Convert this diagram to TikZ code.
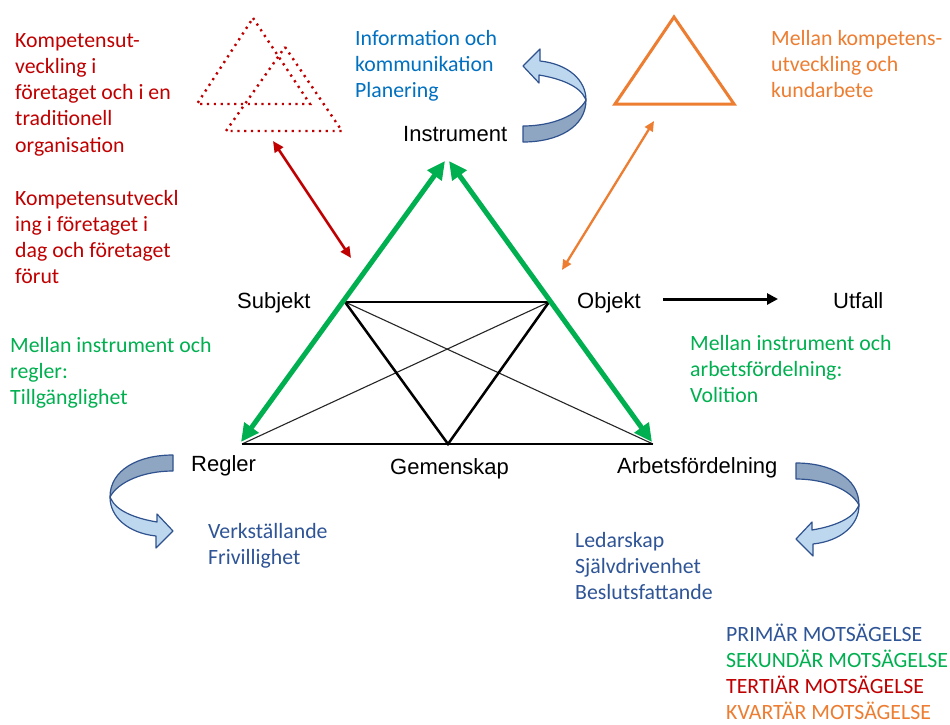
\documentclass[tikz,border=0pt]{standalone}
\usepackage{fontspec}
\newfontfamily\calfont{Carlito}
\newfontfamily\arifont{Liberation Sans}
\usetikzlibrary{arrows.meta}
\definecolor{tred}{RGB}{192,0,0}
\definecolor{tblue}{RGB}{0,112,192}
\definecolor{torange}{RGB}{237,125,49}
\definecolor{tgreen}{RGB}{0,176,80}
\definecolor{tdblue}{RGB}{47,85,151}
\definecolor{arrlight}{RGB}{189,215,238}
\definecolor{arrdark}{RGB}{143,166,194}
\definecolor{arrborder}{RGB}{47,82,143}
\newcommand\firstln{\rule{0pt}{18pt}}
\tikzset{
  txt/.style={anchor=north west, inner sep=0pt, align=left, font=\calfont\fontsize{21.8}{26.2}\selectfont},
  lab/.style={anchor=base west, inner sep=0pt, font=\arifont\fontsize{22}{25}\selectfont},
  thickln/.style={line width=2.5pt, black},
  thinln/.style={line width=1.1pt, black!85},
  greenarr/.style={line width=5pt, tgreen, {Triangle[length=18pt,width=17pt]}-{Triangle[length=18pt,width=17pt]}},
  redarr/.style={line width=2.5pt, tred, {Triangle[length=11pt,width=10pt]}-{Triangle[length=11pt,width=10pt]}},
  orarr/.style={line width=2.3pt, torange, {Triangle[length=10pt,width=9pt]}-{Triangle[length=10pt,width=9pt]}},
  utarr/.style={line width=3pt, black, -{Triangle[length=11pt,width=11pt]}},
  dottri/.style={line width=2.4pt, tred, dash pattern=on 2.2pt off 4.6pt},
  curly/.pic={
    \filldraw[fill=arrlight, draw=arrborder, line width=1.2pt, line join=round]
      (63,42) .. controls (63,62) and (45,78) .. (17,81) -- (17,93) -- (0,76) -- (16,59) -- (16,67)
      .. controls (40,63) and (57,55) .. (62,44) -- cycle;
    \filldraw[fill=arrdark, draw=arrborder, line width=1.2pt, line join=round]
      (0,0) .. controls (35,0) and (63,15) .. (63,42) .. controls (55,27) and (30,16) .. (0,16) -- cycle;
  }
}
\begin{document}
\begin{tikzpicture}[x=1pt,y=-1pt]
\useasboundingbox[fill=white] (0,0) rectangle (950,724);

% corner coordinates
\coordinate (apexL) at (445,161);
\coordinate (apexR) at (449,161);
\coordinate (cR) at (241,442);
\coordinate (cA) at (652,442);
\coordinate (S) at (345,302);
\coordinate (O) at (549,302);
\coordinate (G) at (448,444);
\coordinate (Rb) at (242,444);
\coordinate (Ab) at (653,444);

% inner figure
\draw[thinln] (S) -- (Ab);
\draw[thinln] (O) -- (Rb);
\draw[thickln] (S) -- (O);
\draw[thickln] (S) -- (G) -- (O);
\draw[thickln] (Rb) -- (Ab);

% green arrows
\draw[greenarr] (cR) -- (apexL);
\draw[greenarr] (apexR) -- (cA);

% labels
\node[lab] (instr) at (403,141) {Instrument};
\node[lab] (subj) at (237,308) {Subjekt};
\node[lab] (obj) at (577,308) {Objekt};
\node[lab] (utf) at (833,308) {Utfall};
\node[lab] (regl) at (191,471) {Regler};
\node[lab] (gem) at (390,474) {Gemenskap};
\node[lab] (arb) at (617,473) {Arbetsfördelning};

\draw[utarr] ([xshift=22pt,yshift=9pt]obj.base east) -- ([xshift=-55pt,yshift=9pt]utf.base west);

% triangles
\draw[dottri] (253,18) -- (310,104) -- (197,104) -- cycle;
\draw[dottri] (285,47) -- (342,131) -- (226,131) -- cycle;
\draw[line width=3pt, torange, line join=miter] (674,17) -- (734,104) -- (615,104) -- cycle;

\coordinate (redA) at (273,141);
\coordinate (redB) at (351,258);
\draw[redarr] (redA) -- (redB);
\coordinate (orA) at (654,121);
\coordinate (orB) at (562,270);
\draw[orarr] (orA) -- (orB);

% curly arrows
\pic at (796,463) {curly};
\pic[xscale=-1] at (173,455) {curly};
\pic[yscale=-1] at (523,142) {curly};

% texts
\node[txt, text=tred] (kompA) at (15,29) {\firstln Kompetensut-\\veckling i\\företaget och i en\\traditionell\\organisation};
\node[txt, text=tred] (kompB) at (15,187) {\firstln Kompetensutveckl\\ing i företaget i\\dag och företaget\\förut};
\node[txt, text=tblue] (info) at (355,27) {\firstln Information och\\kommunikation\\Planering};
\node[txt, text=torange] (mellanK) at (771,27) {\firstln Mellan kompetens-\\utveckling och\\kundarbete};
\node[txt, text=tgreen] (grL) at (10,334) {\firstln Mellan instrument och\\regler:\\Tillgänglighet};
\node[txt, text=tgreen] (grR) at (690,332) {\firstln Mellan instrument och\\arbetsfördelning:\\Volition};
\node[txt, text=tdblue] (verk) at (208,520) {\firstln Verkställande\\Frivillighet};
\node[txt, text=tdblue] (led) at (575,529) {\firstln Ledarskap\\Självdrivenhet\\Beslutsfattande};
\node[txt] (legend) at (726,623) {\firstln{\color{tdblue}PRIMÄR MOTSÄGELSE}\\{\color{tgreen}SEKUNDÄR MOTSÄGELSE}\\{\color{tred}TERTIÄR MOTSÄGELSE}\\{\color{torange}KVARTÄR MOTSÄGELSE}};
\end{tikzpicture}
\end{document}
